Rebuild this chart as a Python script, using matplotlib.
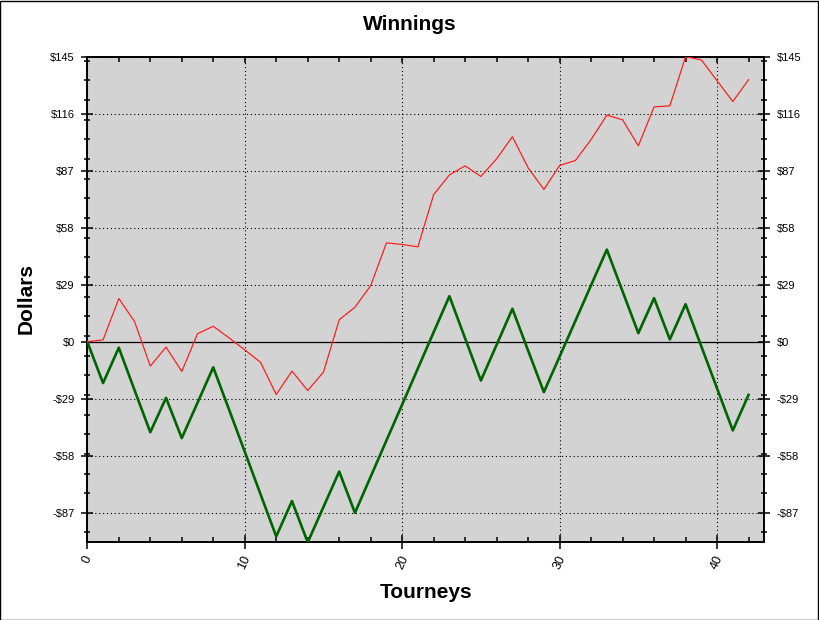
import numpy as np
import matplotlib
matplotlib.use("Agg")
import matplotlib.pyplot as plt
from matplotlib.ticker import FuncFormatter, MultipleLocator, FixedLocator, NullFormatter
from matplotlib.patches import Rectangle

plt.rcParams['font.family'] = ['Liberation Sans', 'DejaVu Sans']

# data
tourneys = list(range(43))
winnings = [0, 1, 22, 10.3, -12.4, -2.7, -15.1, 4.1, 7.9, 2, -4.1, -10.4, -26.8,
            -14.9, -24.8, -15.4, 11.2, 17.6, 28.6, 50.3, 49.5, 48.3, 74.9, 84.9,
            89.5, 84.1, 93.1, 104.3, 88.5, 77.5, 89.7, 92.2, 102.9, 115.3, 112.9,
            99.7, 119.5, 120, 145, 143.4, 132.8, 122.2, 133.3]
bankroll = [0, -21, -3, -24.6, -46, -28.5, -49, -31, -13, -34.4, -55.9, -77.5,
            -99, -81, -102, -84, -66, -87, -68.6, -50.2, -31.9, -13.5, 4.9, 23.2,
            1.7, -19.7, -1.5, 16.8, -4.5, -25.6, -7.5, 10.6, 28.8, 46.9, 25.6,
            4.4, 22.2, 1.2, 19.1, -2.3, -23.7, -45.1, -27]
y_ticks = [-87, -58, -29, 0, 29, 58, 87, 116, 145]
x_ticks = [0, 10, 20, 30, 40]

fig = plt.figure(figsize=(8.19, 6.2), dpi=100)
fig.patch.set_facecolor('white')
fig.add_artist(Rectangle((0.0006, 0.0008), 0.9976, 0.9976, transform=fig.transFigure,
                         fill=False, edgecolor='black', lw=1))

ax = fig.add_axes([0.1066, 0.1253, 0.8266, 0.7832])
ax.set_facecolor('#d3d3d3')

ax.plot(tourneys, bankroll, color='#006400', lw=1.9, zorder=3)
ax.plot(tourneys, winnings, color='#ff2020', lw=0.9, zorder=4)
ax.axhline(0, color='black', lw=0.9, zorder=2)

ax.set_xlim(0, 43)
ax.set_ylim(min(bankroll + winnings), max(bankroll + winnings))

ax.set_yticks(y_ticks)
ax.yaxis.set_minor_locator(FixedLocator(np.arange(-97, 146, 10)))
ax.set_xticks(x_ticks)
ax.xaxis.set_minor_locator(MultipleLocator(2))


def dollars(v, pos):
    if v < 0:
        return "-$%d" % round(-v)
    return "$%d" % round(v)


ax.yaxis.set_major_formatter(FuncFormatter(dollars))

ax.grid(True, which='major', color='black', linestyle=(0, (1, 2.5)), lw=0.8, zorder=1)
ax.set_axisbelow(True)

for s in ax.spines.values():
    s.set_linewidth(1.4)

ax.tick_params(axis='y', which='major', direction='inout', length=8, width=1.1,
               labelsize=8, pad=5, right=True, labelright=True)
ax.tick_params(axis='y', which='minor', direction='inout', length=4.5, width=1.1,
               right=True)
ax.tick_params(axis='x', which='major', direction='inout', length=10, width=1.1,
               labelsize=9, pad=3, labelrotation=65)
ax.tick_params(axis='x', which='minor', direction='in', length=3.5, width=1.1)
for lab in ax.get_xticklabels():
    lab.set_ha('center')

# top axis: ticks inside only, no labels
top = ax.secondary_xaxis('top')
top.set_xticks(x_ticks)
top.xaxis.set_minor_locator(MultipleLocator(2))
top.xaxis.set_major_formatter(NullFormatter())
top.tick_params(which='major', direction='in', length=4, width=1.1)
top.tick_params(which='minor', direction='in', length=3.5, width=1.1)
top.spines['top'].set_linewidth(1.4)

fig.text(0.5005, 1 - 29.5 / 620, 'Winnings', ha='center', va='baseline',
         fontsize=15, fontweight='bold')
fig.text(0.52, 1 - 593 / 620, 'Tourneys', ha='center', va='center',
         fontsize=15, fontweight='bold')
fig.text(26 / 819, 1 - 298 / 620, 'Dollars', ha='center', va='center',
         rotation=90, fontsize=15, fontweight='bold')

fig.savefig('out.png', dpi=100)
